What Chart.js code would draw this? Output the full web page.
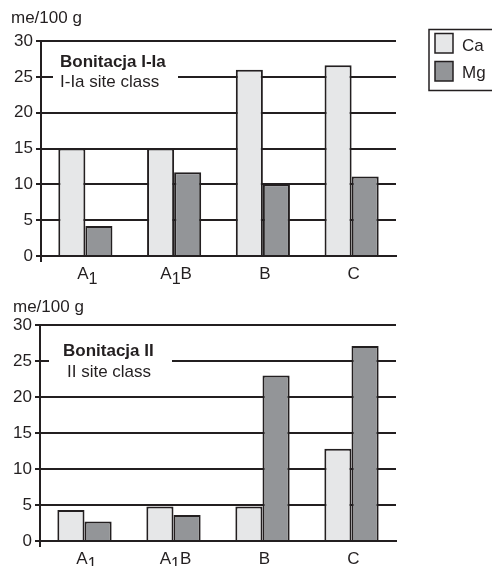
<!DOCTYPE html>
<html>
<head>
<meta charset="utf-8">
<script src="https://cdn.jsdelivr.net/npm/chart.js@4/dist/chart.umd.min.js"></script>
<style>
  html, body { margin: 0; padding: 0; background: #fff; }
  #wrap { position: relative; width: 492px; height: 566px; overflow: hidden; }
  canvas { position: absolute; left: 0; }
</style>
</head>
<body>
<div id="wrap">
  <canvas id="top" width="492" height="290" style="top:0"></canvas>
  <canvas id="bottom" width="492" height="276" style="top:290px"></canvas>
</div>
<script>
// ---- data ----
const categories = ['A₁', 'A₁B', 'B', 'C'];
const seriesNames = ['Ca', 'Mg'];
const caTop = [15, 15, 26, 26.6];
const mgTop = [4.2, 11.7, 10, 11.1];
const caBottom = [4.3, 4.8, 4.8, 12.8];
const mgBottom = [2.7, 3.6, 23.0, 27.1];
const yTicks = [0, 5, 10, 15, 20, 25, 30];
const unitLabel = 'me/100 g';
const panelTitles = ['Bonitacja I-Ia', 'Bonitacja II'];
const panelSubtitles = ['I-Ia site class', 'II site class'];

// ---- style ----
const FONT = "'Liberation Sans', Arial, sans-serif";
const DARK = '#231f20';
const CA_FILL = '#e6e7e8';
const MG_FILL = '#939598';
const FS = 17;

const panelPlugin = {
  id: 'panel',
  beforeDatasetsDraw(chart, args, o) {
    const ctx = chart.ctx;
    ctx.save();
    ctx.fillStyle = '#fff';
    ctx.fillRect(o.box[0], o.box[1], o.box[2], o.box[3]);
    ctx.fillStyle = DARK;
    ctx.textBaseline = 'alphabetic';
    ctx.textAlign = 'left';
    ctx.font = 'bold ' + FS + 'px ' + FONT;
    ctx.fillText(o.title, o.titlePos[0], o.titlePos[1]);
    ctx.font = FS + 'px ' + FONT;
    ctx.fillText(o.subtitle, o.subPos[0], o.subPos[1]);
    ctx.restore();
  },
  afterDraw(chart, args, o) {
    const ctx = chart.ctx;
    const area = chart.chartArea;
    const xs = chart.scales.x;
    ctx.save();
    // unit label
    ctx.fillStyle = DARK;
    ctx.font = FS + 'px ' + FONT;
    ctx.textBaseline = 'alphabetic';
    ctx.textAlign = 'left';
    ctx.fillText(unitLabel, o.unitPos[0], o.unitPos[1]);
    // y axis extension below zero
    ctx.strokeStyle = DARK;
    ctx.lineWidth = 2;
    ctx.beginPath();
    ctx.moveTo(area.left, area.bottom);
    ctx.lineTo(area.left, area.bottom + 6);
    ctx.stroke();
    // x labels with lowered "1"
    const base = area.bottom + 23;
    chart.data.labels.forEach((lab, i) => {
      const parts = [];
      for (const ch of lab) {
        if (ch === '₁') parts.push({ t: '1', sub: true });
        else parts.push({ t: ch, sub: false });
      }
      let w = 0;
      parts.forEach(p => {
        ctx.font = (p.sub ? FS * 0.95 : FS) + 'px ' + FONT;
        p.w = ctx.measureText(p.t).width;
        w += p.w;
      });
      let x = xs.getPixelForValue(i) + 2 - w / 2;
      parts.forEach(p => {
        ctx.font = (p.sub ? FS * 0.95 : FS) + 'px ' + FONT;
        ctx.fillText(p.t, x, base + (p.sub ? 4.5 : 0));
        x += p.w;
      });
    });
    // legend
    if (o.legend) {
      ctx.lineWidth = 1.5;
      ctx.strokeStyle = DARK;
      ctx.strokeRect(429, 29.5, 80, 61);
      chart.data.datasets.forEach((ds, i) => {
        const y = 33.5 + i * 28;
        ctx.fillStyle = ds.backgroundColor;
        ctx.fillRect(435, y, 18, 19.5);
        ctx.strokeRect(435, y, 18, 19.5);
        ctx.fillStyle = DARK;
        ctx.font = FS + 'px ' + FONT;
        ctx.fillText(ds.label, 462, 50.7 + i * 27.6);
      });
    }
    ctx.restore();
  }
};

function makeChart(id, ca, mg, cfg) {
  return new Chart(document.getElementById(id), {
    type: 'bar',
    data: {
      labels: categories,
      datasets: [
        { label: seriesNames[0], data: ca, backgroundColor: CA_FILL, borderColor: DARK,
          borderWidth: 2, borderSkipped: 'start' },
        { label: seriesNames[1], data: mg, backgroundColor: MG_FILL, borderColor: DARK,
          borderWidth: 2, borderSkipped: 'start' }
      ]
    },
    options: {
      responsive: false,
      animation: false,
      devicePixelRatio: 1,
      categoryPercentage: 0.61,
      barPercentage: 1,
      layout: { padding: { left: 0, right: 96, top: cfg.top, bottom: 0 } },
      plugins: {
        legend: { display: false },
        tooltip: { enabled: false },
        panel: cfg.panel
      },
      scales: {
        x: {
          grid: { display: false },
          border: { display: true, color: DARK, width: 2 },
          ticks: { display: false },
          afterFit: s => { s.height = cfg.xh; }
        },
        y: {
          min: 0, max: 30,
          afterBuildTicks: s => { s.ticks = yTicks.map(v => ({ value: v })); },
          ticks: { color: DARK, font: { family: FONT, size: FS }, padding: 3 },
          grid: { color: DARK, lineWidth: 2, tickLength: 5, tickColor: DARK, tickWidth: 2 },
          border: { display: true, color: DARK, width: 2 },
          afterFit: s => { s.width = cfg.yw; }
        }
      }
    },
    plugins: [panelPlugin]
  });
}

makeChart('top', caTop, mgTop, {
  top: 41, xh: 34, yw: 41,
  panel: {
    box: [53, 48, 125, 52],
    title: panelTitles[0], titlePos: [60, 66.7],
    subtitle: panelSubtitles[0], subPos: [60, 87.3],
    unitPos: [11, 23], legend: true
  }
});
makeChart('bottom', caBottom, mgBottom, {
  top: 35, xh: 25, yw: 40,
  panel: {
    box: [49, 42, 123, 56],
    title: panelTitles[1], titlePos: [63, 65.7],
    subtitle: panelSubtitles[1], subPos: [67, 86.7],
    unitPos: [13, 21.7], legend: false
  }
});
</script>
</body>
</html>
